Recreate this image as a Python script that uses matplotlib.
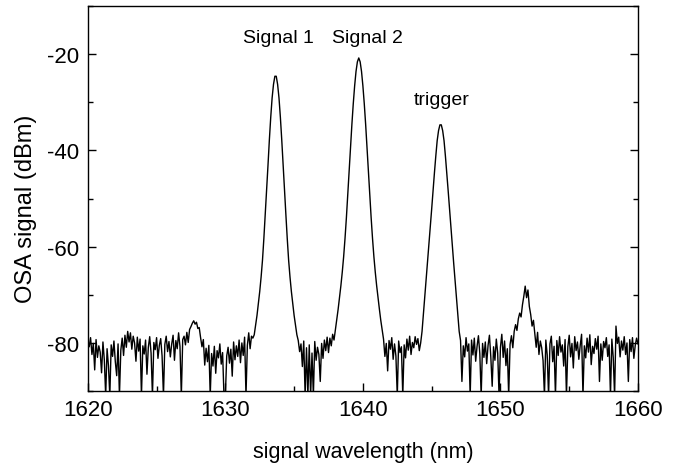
import numpy as np
import matplotlib
matplotlib.use("Agg")
import matplotlib.pyplot as plt
from matplotlib.ticker import MultipleLocator

plt.rcParams['font.family'] = ['Liberation Sans', 'DejaVu Sans']
plt.rcParams['axes.unicode_minus'] = False

# OSA trace, every 0.1 nm; one row per nm starting at 1620 nm
start_nm = 1620.0
step_nm = 0.1
osa_rows = [
    [-79.5, -80.8, -78.9, -82.4, -80.1, -85.6, -79.3, -83.0, -80.6, -81.9],  # 1620
    [-86.2, -79.8, -83.5, -91.0, -81.2, -84.7, -91.0, -80.4, -82.8, -79.6],  # 1621
    [-83.9, -86.8, -80.2, -91.0, -81.5, -79.0, -82.6, -78.4, -80.9, -77.6],  # 1622
    [-79.8, -77.9, -81.3, -78.6, -80.0, -83.8, -78.8, -81.7, -79.2, -91.0],  # 1623
    [-80.6, -82.3, -79.4, -86.5, -80.9, -78.7, -82.1, -91.0, -79.9, -81.4],  # 1624
    [-78.9, -83.2, -80.5, -79.1, -82.7, -91.0, -80.3, -78.6, -81.8, -79.7],  # 1625
    [-82.9, -80.2, -78.4, -83.6, -79.5, -81.2, -77.9, -80.7, -91.0, -79.3],  # 1626
    [-78.6, -80.4, -77.8, -79.9, -77.2, -76.6, -75.9, -75.4, -76.1, -75.7],  # 1627
    [-77.0, -76.8, -78.9, -80.8, -79.3, -84.6, -81.1, -83.9, -80.5, -91.0],  # 1628
    [-82.2, -84.8, -80.7, -86.3, -81.6, -83.1, -80.2, -84.4, -82.0, -91.0],  # 1629
    [-91.0, -82.7, -80.9, -84.2, -81.3, -86.9, -79.8, -83.5, -80.6, -82.8],  # 1630
    [-79.4, -84.1, -80.0, -82.6, -78.8, -91.0, -80.5, -77.9, -81.2, -78.6],  # 1631
    [-79.0, -78.3, -76.3, -74.3, -71.8, -69.3, -66.3, -62.8, -58.3, -53.3],  # 1632
    [-48.3, -43.1, -37.8, -33.1, -29.1, -26.3, -24.6, -24.6, -26.3, -29.1],  # 1633
    [-33.1, -37.8, -43.1, -48.3, -53.3, -58.3, -62.8, -66.3, -69.3, -71.8],  # 1634
    [-74.3, -76.3, -78.3, -79.5, -81.8, -80.2, -84.9, -79.6, -91.0, -81.0],  # 1635
    [-91.0, -80.4, -91.0, -82.1, -91.0, -79.7, -83.6, -80.9, -82.4, -88.0],  # 1636
    [-80.1, -83.2, -79.4, -81.6, -78.8, -82.0, -79.0, -80.6, -78.2, -79.4],  # 1637
    [-77.3, -75.3, -73.0, -70.6, -68.1, -65.3, -62.1, -58.3, -54.0, -49.3],  # 1638
    [-44.3, -39.3, -34.6, -30.3, -26.6, -23.6, -21.6, -20.8, -21.6, -23.6],  # 1639
    [-26.6, -30.3, -34.6, -39.3, -44.3, -49.3, -54.0, -58.3, -62.1, -65.3],  # 1640
    [-68.1, -70.6, -73.0, -75.3, -77.3, -79.2, -82.8, -80.1, -85.8, -79.5],  # 1641
    [-81.3, -78.9, -83.4, -80.2, -82.7, -91.0, -79.6, -82.0, -80.8, -91.0],  # 1642
    [-80.4, -83.1, -79.2, -81.5, -78.6, -82.4, -79.9, -81.0, -78.7, -80.3],  # 1643
    [-79.1, -81.6, -80.0, -77.6, -74.0, -70.4, -67.0, -63.4, -59.7, -55.9],  # 1644
    [-52.2, -48.4, -44.7, -41.2, -38.0, -35.9, -34.7, -34.7, -35.9, -38.0],  # 1645
    [-41.2, -44.7, -48.4, -52.2, -55.9, -59.7, -63.4, -67.0, -70.4, -74.0],  # 1646
    [-77.6, -79.5, -88.0, -80.6, -82.9, -78.9, -81.7, -80.2, -91.0, -79.4],  # 1647
    [-82.5, -79.0, -83.8, -80.7, -78.5, -82.2, -91.0, -80.1, -83.0, -79.8],  # 1648
    [-84.3, -80.5, -78.4, -82.9, -89.0, -80.8, -83.6, -79.2, -82.1, -91.0],  # 1649
    [-80.9, -78.2, -83.0, -79.6, -84.7, -81.2, -91.0, -80.3, -78.5, -81.0],  # 1650
    [-77.6, -76.2, -77.4, -75.0, -73.8, -74.6, -72.1, -70.3, -68.2, -70.6],  # 1651
    [-69.0, -72.4, -74.1, -76.5, -75.3, -78.2, -80.9, -77.8, -82.4, -79.6],  # 1652
    [-81.0, -83.7, -91.0, -79.4, -82.5, -91.0, -80.2, -78.6, -83.9, -80.7],  # 1653
    [-91.0, -79.5, -82.6, -78.7, -81.9, -80.4, -84.8, -79.3, -91.0, -80.8],  # 1654
    [-78.4, -82.9, -80.1, -85.2, -78.7, -81.6, -79.8, -83.4, -80.5, -78.2],  # 1655
    [-91.0, -80.6, -83.1, -79.0, -81.9, -78.3, -84.5, -80.7, -82.2, -79.1],  # 1656
    [-81.3, -78.6, -88.0, -80.2, -83.6, -79.7, -81.0, -78.9, -82.8, -80.4],  # 1657
    [-91.0, -79.2, -83.0, -91.0, -76.5, -80.1, -78.8, -82.9, -79.6, -81.5],  # 1658
    [-78.7, -82.4, -80.0, -88.0, -79.3, -81.8, -78.9, -83.2, -80.5, -79.0],  # 1659
    [-80.2],                                                                 # 1660
]

peak_labels = ["Signal 1", "Signal 2", "trigger"]
label_x = [1633.85, 1640.3, 1645.7]
label_y = [-16.5, -16.5, -29.4]

osa_dbm = np.array([v for row in osa_rows for v in row])
wavelength = start_nm + step_nm * np.arange(len(osa_dbm))

fig = plt.figure(figsize=(6.86, 4.64), dpi=100)
ax = fig.add_axes([0.128, 0.155, 0.802, 0.830])

ax.plot(wavelength, osa_dbm, color="black", lw=1.0)

for txt, x, y in zip(peak_labels, label_x, label_y):
    ax.text(x, y, txt, ha="center", va="center", fontsize=14)

ax.set_xlim(1620, 1660)
ax.set_ylim(-90, -10)
ax.xaxis.set_major_locator(MultipleLocator(10))
ax.xaxis.set_minor_locator(MultipleLocator(5))
ax.yaxis.set_major_locator(MultipleLocator(20))
ax.yaxis.set_minor_locator(MultipleLocator(10))
ax.set_yticks([-20, -40, -60, -80])

ax.tick_params(which="both", direction="in", right=True, top=False,
               labelsize=16, width=1.0, pad=6)
ax.tick_params(which="major", length=6)
ax.tick_params(which="minor", length=3.5)
for sp in ax.spines.values():
    sp.set_linewidth(1.0)

ax.set_xlabel("signal wavelength (nm)", fontsize=15.5)
ax.set_ylabel("OSA signal (dBm)", fontsize=17)
ax.xaxis.set_label_coords(0.5, -0.13)
ax.yaxis.set_label_coords(-0.093, 0.475)

fig.savefig("out.png", dpi=100)
